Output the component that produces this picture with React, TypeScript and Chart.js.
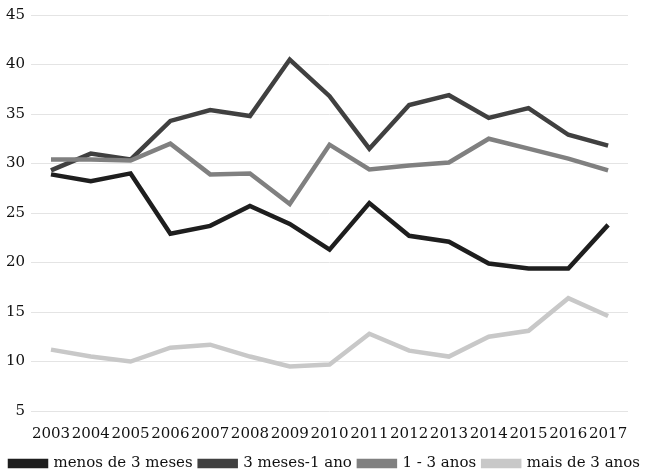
import React, { useEffect, useRef } from "react";
import { Chart, registerables } from "chart.js";

Chart.register(...registerables);

const years = ["2003", "2004", "2005", "2006", "2007", "2008", "2009", "2010", "2011", "2012", "2013", "2014", "2015", "2016", "2017"];
const menos3Meses = [28.9, 28.2, 29.0, 22.9, 23.7, 25.7, 23.9, 21.3, 26.0, 22.7, 22.1, 19.9, 19.4, 19.4, 23.8];
const meses3a1Ano = [29.3, 31.0, 30.4, 34.3, 35.4, 34.8, 40.5, 36.8, 31.5, 35.9, 36.9, 34.6, 35.6, 32.9, 31.8];
const anos1a3 = [30.4, 30.4, 30.3, 32.0, 28.9, 29.0, 25.9, 31.9, 29.4, 29.8, 30.1, 32.5, 31.5, 30.5, 29.3];
const mais3Anos = [11.2, 10.5, 10.0, 11.4, 11.7, 10.5, 9.5, 9.7, 12.8, 11.1, 10.5, 12.5, 13.1, 16.4, 14.6];
const seriesNames = ["menos de 3 meses", "3 meses-1 ano", "1 - 3 anos", "mais de 3 anos"];
const seriesColors = ["#1e1e1e", "#404040", "#808080", "#c8c8c8"];

export default function App() {
  const ref = useRef<HTMLCanvasElement | null>(null);
  useEffect(() => {
    if (!ref.current) return;
    const font = { family: "'DejaVu Serif', serif", size: 15 };
    const all = [menos3Meses, meses3a1Ano, anos1a3, mais3Anos];
    const chart = new Chart(ref.current, {
      type: "line",
      data: {
        labels: years,
        datasets: all.map((d, i) => ({
          label: seriesNames[i],
          data: d,
          borderColor: seriesColors[i],
          backgroundColor: seriesColors[i],
          borderWidth: 4.5,
          pointRadius: 0,
          tension: 0,
          order: 3 - i,
          yAxisID: "y",
        })),
      },
      options: {
        animation: false,
        responsive: false,
        layout: { padding: { top: 12, left: 0, right: 0, bottom: 0 } },
        plugins: {
          tooltip: { enabled: false },
          legend: {
            position: "bottom",
            labels: {
              font,
              color: "#111",
              boxWidth: 36,
              boxHeight: 5,
              padding: 7,
              sort: (a: any, b: any) => a.datasetIndex - b.datasetIndex,
            },
          },
        },
        scales: {
          x: {
            offset: true,
            grid: { display: false },
            border: { display: false },
            ticks: { font, color: "#111", autoSkip: false, maxRotation: 0, padding: 6 },
          },
          y: {
            min: 5,
            max: 45,
            ticks: { stepSize: 5, font, color: "#111", padding: 6 },
            grid: { color: "#e4e4e4", lineWidth: 1, drawTicks: false },
            border: { display: false },
          },
          y2: {
            position: "right",
            display: true,
            min: 5,
            max: 45,
            ticks: { display: false },
            grid: { display: false },
            border: { display: false },
            afterFit: (axis: any) => {
              axis.width = 22;
            },
          },
        },
      },
    });
    return () => chart.destroy();
  }, []);
  return (
    <div style={{ position: "absolute", left: 0, top: 0, width: 650, height: 469, overflow: "hidden", background: "#fff" }}>
      <canvas ref={ref} width={650} height={481} style={{ width: 650, height: 481, display: "block" }} />
    </div>
  );
}
